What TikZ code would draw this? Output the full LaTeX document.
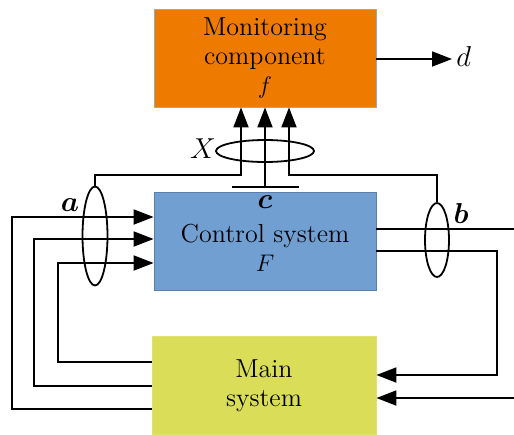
\documentclass[tikz,border=0pt]{standalone}
\usepackage{amsmath}
\usetikzlibrary{arrows.meta,shapes.geometric}
\definecolor{monfill}{HTML}{EE7A00}
\definecolor{ctrlfill}{HTML}{729FD2}
\definecolor{mainfill}{HTML}{D9DD58}
\tikzset{
  blk/.style={rectangle, inner sep=0pt, minimum width=111pt, minimum height=49pt,
    align=center, font=\fontsize{13}{14.5}\selectfont, line width=0.4pt},
  txt/.style={align=center, font=\fontsize{13}{14.5}\selectfont, inner sep=0pt},
  wire/.style={line width=0.9pt, black},
  arr/.style={wire, -{Triangle[length=10pt,width=7.5pt]}},
  ring/.style={draw, ellipse, line width=0.9pt, inner sep=0pt},
  lbl/.style={font=\fontsize{15}{16}\selectfont, inner sep=0pt}
}
\begin{document}
\begin{tikzpicture}[x=0.5pt,y=-0.5pt]
\useasboundingbox (0,0) rectangle (514,434);

% blocks
\node[blk, fill=monfill, draw=gray!70] (mon) at (265,58) {Monitoring\\component\\$f$};
\node[blk, fill=ctrlfill, draw=ctrlfill!80!black] (ctrl) at (265,241) {};
\node[txt] (ctrltxt) at (265,248) {Control system\\$F$};
\node[blk, fill=mainfill, draw=mainfill!85!white, minimum width=112pt] (main) at (264,385.5) {Main\\system};

% grouping rings
\node[ring, minimum width=12.5pt, minimum height=49.5pt] (ea) at (95,236) {};
\node[ring, minimum width=12pt, minimum height=37pt] (eb) at (437,240) {};
\node[ring, minimum width=49pt, minimum height=11pt] (ex) at (265,151) {};

% labels
\node[lbl] (la) at (70,205) {$\boldsymbol{a}$};
\node[lbl] (lb) at (461,213) {$\boldsymbol{b}$};
\node[lbl] (lc) at (265,202) {$\boldsymbol{c}$};
\node[lbl] (lx) at (203,149) {$X$};
\node[lbl, anchor=west] (ld) at (456,56) {$d$};

% output d
\draw[arr] (mon.east |- 0,59) -- (452,59);

% signals into the monitoring component
\coordinate (jl) at (241,175);
\coordinate (jr) at (289,175);
\coordinate (tc) at (265,187);
\draw[arr] (ea.north) |- (jl) -- (jl |- mon.south);
\draw[arr] (eb.north) |- (jr) -- (jr |- mon.south);
\draw[arr] (tc) -- (tc |- mon.south);
\draw[wire] (232,187) -- (299,187);

% measured outputs of the main system fed to the controller
\coordinate (x1) at (12,0);
\coordinate (x2) at (34,0);
\coordinate (x3) at (58,0);
\draw[arr] (main.west |- 0,409) -| (x1 |- 0,217) -- (ctrl.west |- 0,217);
\draw[arr] (main.west |- 0,386) -| (x2 |- 0,239) -- (ctrl.west |- 0,239);
\draw[arr] (main.west |- 0,362) -| (x3 |- 0,263) -- (ctrl.west |- 0,263);

% controller outputs
\coordinate (xr) at (497,0);
\coordinate (xe) at (514,0);
\draw[wire] (ctrl.east |- 0,229) -- (xe |- 0,229);
\draw[arr] (ctrl.east |- 0,251) -| (xr |- 0,375) -- (main.east |- 0,375);
\draw[arr] (xe |- 0,398) -- (main.east |- 0,398);
\end{tikzpicture}
\end{document}
